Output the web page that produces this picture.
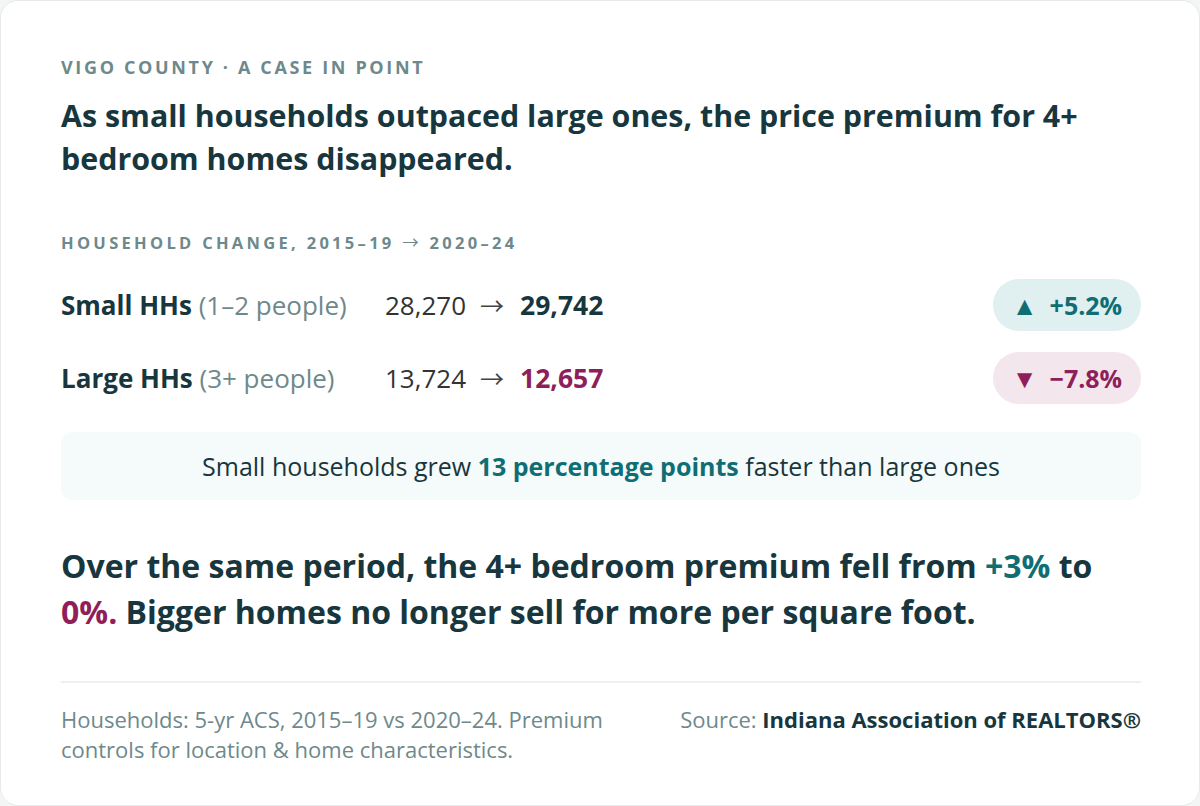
<!DOCTYPE html>
<html>
<head>
<meta charset="utf-8">
<script src="https://cdn.jsdelivr.net/npm/chart.js@4.4.1/dist/chart.umd.min.js"></script>
<style>
  html, body { margin: 0; padding: 0; background: #f4f6f6; }
  body { width: 1200px; height: 806px; font-family: "Open Sans", "Noto Sans", sans-serif; }
  .card {
    position: absolute; left: 0; top: 0; width: 1198px; height: 804px;
    background: #fff; border: 1px solid #e6eaea; border-radius: 18px;
  }
  .inner { position: absolute; left: 60px; width: 1080px; top: 0; }
  .eyebrow { position: absolute; top: 53px; font-size: 18px; line-height: 26px; font-weight: 700; letter-spacing: 2.65px; color: #6e898b; white-space: nowrap; }
  .title { position: absolute; top: 93px; font-size: 30.4px; font-weight: 700; line-height: 43px; color: #17363d; width: 1080px; }
  .label { position: absolute; top: 229px; font-size: 16.5px; line-height: 24px; font-weight: 700; letter-spacing: 3.3px; color: #6e898b; white-space: nowrap; }
  .arrow { font-family: "Noto Sans CJK SC", "Open Sans", sans-serif; font-weight: 400; }
  .row { position: absolute; left: 0; width: 1080px; height: 52px; line-height: 52px; }
  .row .name { position: absolute; left: 0; top: 0; font-size: 26px; color: #17363d; font-weight: 700; white-space: nowrap; }
  .row .name span { font-weight: 400; color: #6e898b; }
  .row .nums { position: absolute; left: 324px; top: 0; font-size: 26px; color: #333; white-space: nowrap; }
  .row .nums .arrow { margin: 0 16px 0 14px; font-size: 24px; color: #444; }
  .row .nums b { font-size: 26.5px; }
  .pill { position: absolute; right: 0; top: 0; width: 148px; height: 52px; border-radius: 26px; font-size: 25px; font-weight: 700; text-align: center; line-height: 52px; white-space: nowrap; }
  .callout { position: absolute; top: 431px; left: 0; width: 1080px; height: 68px; background: #f5fafb; border-radius: 12px; text-align: center; line-height: 68px; font-size: 25px; color: #17363d; white-space: nowrap; }
  .callout b { color: #0e6e73; }
  .take { position: absolute; top: 542px; font-size: 32px; font-weight: 700; line-height: 46px; color: #17363d; width: 1080px; }
  .rule { position: absolute; top: 680px; left: 0; width: 1080px; height: 2px; background: #eef0f0; }
  .foot { position: absolute; top: 703px; left: 0; width: 580px; font-size: 22px; line-height: 30px; color: #6e898b; }
  .src { position: absolute; top: 703px; right: 0; font-size: 22px; line-height: 30px; color: #6e898b; white-space: nowrap; }
  .src b { color: #17363d; }
  #hidden { display: none; }
</style>
</head>
<body>
<div class="card">
  <div class="inner" id="inner">
    <div class="eyebrow">VIGO COUNTY · A CASE IN POINT</div>
    <div class="title">As small households outpaced large ones, the price premium for 4+ bedroom homes disappeared.</div>
    <div class="label">HOUSEHOLD CHANGE, 2015–19 <span class="arrow">→</span> 2020–24</div>
    <div class="callout">Small households grew <b>13 percentage points</b> faster than large ones</div>
    <div class="take">Over the same period, the 4+ bedroom premium fell from <span style="color:#0e6e73">+3%</span> to <span style="color:#8e1f5a">0%.</span> Bigger homes no longer sell for more per square foot.</div>
    <div class="rule"></div>
    <div class="foot">Households: 5-yr ACS, 2015–19 vs 2020–24. Premium controls for location &amp; home characteristics.</div>
    <div class="src">Source: <b>Indiana Association of REALTORS®</b></div>
  </div>
</div>
<canvas id="hidden"></canvas>
<script>
const groups = ["Small HHs", "Large HHs"];
const groupNotes = ["(1–2 people)", "(3+ people)"];
const before = [28270, 13724];
const after = [29742, 12657];
const changePct = ["+5.2%", "−7.8%"];

const rowTops = [278, 351];
const rowColors = [
  { num: "#17363d", pill: "#e0eff0", text: "#0e6e73", icon: "▲" },
  { num: "#8e1f5a", pill: "#f3e6ed", text: "#8e1f5a", icon: "▼" }
];

const inner = document.getElementById("inner");
for (let i = 0; i < groups.length; i++) {
  const r = document.createElement("div");
  r.className = "row";
  r.style.top = rowTops[i] + "px";
  const c = rowColors[i];
  r.innerHTML =
    `<div class="name">${groups[i]} <span>${groupNotes[i]}</span></div>` +
    `<div class="nums">${before[i].toLocaleString("en-US")}<span class="arrow">→</span><b style="color:${c.num}">${after[i].toLocaleString("en-US")}</b></div>` +
    `<div class="pill" style="background:${c.pill};color:${c.text}"><span style="font-size:26px;margin-right:12px">${c.icon}</span>${changePct[i]}</div>`;
  inner.appendChild(r);
}
</script>
</body>
</html>
